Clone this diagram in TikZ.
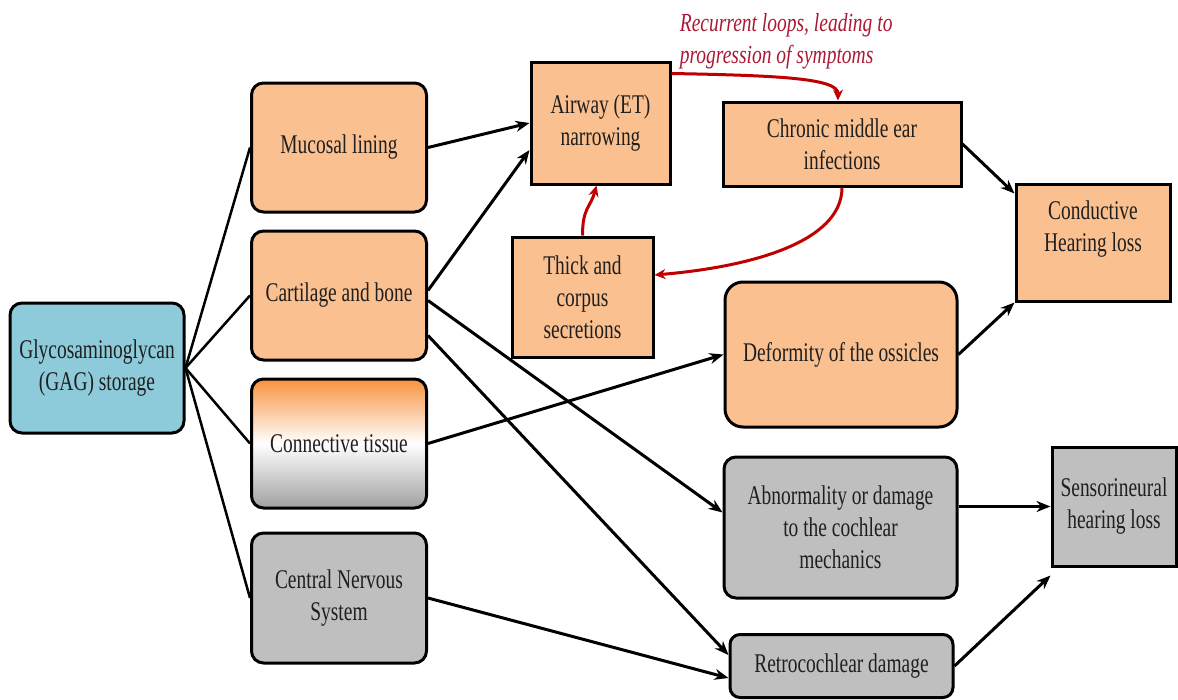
\documentclass[tikz,border=0pt]{standalone}
\usepackage{fontspec}
\setmainfont[FakeStretch=0.72]{Liberation Serif}
\newfontfamily\notefont[FakeStretch=0.75]{Liberation Serif}
\usepackage{tikz}
\usetikzlibrary{positioning,arrows.meta}

\definecolor{boxorange}{RGB}{250,192,143}
\definecolor{boxblue}{RGB}{141,203,219}
\definecolor{boxgray}{RGB}{191,191,191}
\definecolor{tissueorange}{RGB}{247,146,62}
\definecolor{tissuegray}{RGB}{160,160,160}
\definecolor{loopred}{RGB}{192,0,0}
\definecolor{notered}{RGB}{172,24,52}
\newcommand{\boxfont}{\fontsize{27}{32}\selectfont}

\begin{document}
\begin{tikzpicture}[x=1pt,y=1pt,>={Stealth[length=14pt,width=11pt]},
                    line width=3pt,node distance=16pt]
  \tikzstyle{every node}=[font=\boxfont,text=black!88,align=center]
  \tikzstyle{plainbox}=[draw=black,line width=3pt,inner sep=2pt]
  \tikzstyle{roundbox}=[plainbox,rounded corners=12pt]
  \tikzstyle{leftbox}=[roundbox,minimum width=175pt,minimum height=129pt]
  \tikzstyle{loop arrow}=[->,draw=loopred,line width=3pt,
                          >={Stealth[length=11pt,width=10pt]}]

  \path[use as bounding box,fill=white] (0,0) rectangle (1178,-699);

  % left column
  \node[roundbox,fill=boxblue,minimum width=174pt,minimum height=130pt]
        (gag) at (97,-368) {Glycosaminoglycan\\(GAG) storage};
  \node[leftbox,fill=boxorange]  (mucosal)    at (339,-147.5)    {Mucosal lining};
  \node[leftbox,fill=boxorange]  (cartilage)  [below=of mucosal]   {Cartilage and bone};
  \node[leftbox,top color=tissueorange,bottom color=tissuegray,middle color=white]
        (connective) [below=of cartilage] {Connective tissue};
  \node[leftbox,fill=boxgray,minimum height=130pt]
        (cns) [below=22pt of connective] {Central Nervous\\System};

  % middle and right
  \node[plainbox,fill=boxorange,minimum width=139pt,minimum height=122pt]
        (airway) at (600.5,-123) {Airway (ET)\\narrowing};
  \node[plainbox,fill=boxorange,minimum width=141pt,minimum height=120pt]
        (thick) at (582.5,-297) {Thick and\\corpus\\secretions};
  \node[plainbox,fill=boxorange,minimum width=238pt,minimum height=84pt]
        (chronic) at (842,-144) {Chronic middle ear\\infections};
  \node[roundbox,rounded corners=18pt,fill=boxorange,minimum width=232pt,minimum height=145pt]
        (deformity) at (841,-354.5) {Deformity of the ossicles};
  \node[plainbox,fill=boxorange,minimum width=154pt,minimum height=117pt]
        (conductive) at (1093,-242.5) {Conductive\\Hearing loss\\~};
  \node[roundbox,fill=boxgray,minimum width=233pt,minimum height=141pt]
        (abnorm) at (840.5,-527.5) {Abnormality or damage\\to the cochlear\\mechanics};
  \node[roundbox,rounded corners=10pt,fill=boxgray,minimum width=223pt,minimum height=63pt]
        (retro) at (841.5,-666) {Retrocochlear damage};
  \node[plainbox,fill=boxgray,minimum width=124pt,minimum height=119pt]
        (sensori) at (1114,-506.5) {Sensorineural\\hearing loss};

  \node[font={\fontsize{26}{32}\selectfont\notefont\itshape},text=notered,
        align=left,anchor=west] (note) at (675,-41)
        {Recurrent loops, leading to\\progression of symptoms};

  \path[draw,line width=2.5pt]
        (gag.east) edge (mucosal.west)
                   edge (cartilage.west)
                   edge (connective.west)
                   edge (cns.west);

  \path[->] (mucosal.east)               edge (airway.west)
            ([yshift=5pt]cartilage.east)   edge ([yshift=-27pt]airway.west)
            ([yshift=-5pt]cartilage.east)  edge ([yshift=15pt]abnorm.west)
            ([yshift=-40pt]cartilage.east) edge ([yshift=11pt]retro.west)
            (connective.east)            edge (deformity.west)
            (cns.east)                   edge ([yshift=-12pt]retro.west)
            (chronic.east)               edge ([yshift=49pt]conductive.west)
            (deformity.east)             edge (conductive.south west)
            ([yshift=21pt]abnorm.east)     edge (sensori.west)
            (retro.east)                 edge ([yshift=-8pt]sensori.south west);

  % recurrent loop
  \draw[loop arrow] ([yshift=-13pt]airway.north east)
        .. controls +(110pt,-2pt) and +(0pt,22pt) .. ([xshift=-4pt]chronic.north);
  \draw[loop arrow] (chronic.south)
        .. controls +(0pt,-55pt) and +(95pt,8pt) .. ([yshift=22pt]thick.east);
  \draw[loop arrow] (thick.north)
        .. controls +(0pt,28pt) and +(-6pt,-22pt) .. ([xshift=-4pt]airway.south);
\end{tikzpicture}
\end{document}
